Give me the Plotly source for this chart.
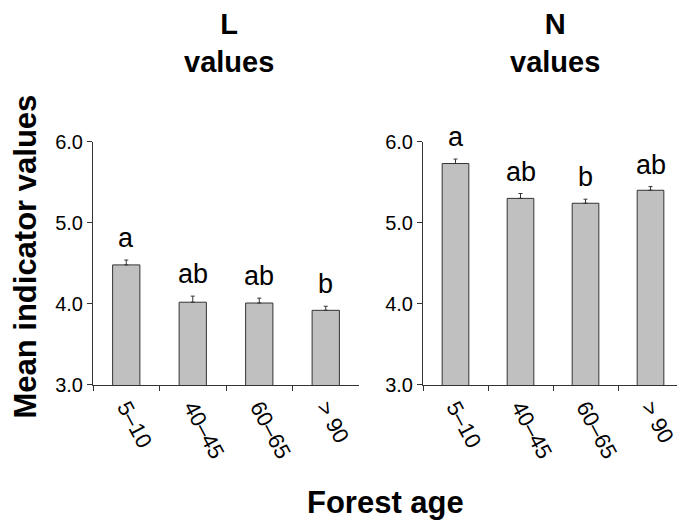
import plotly.graph_objects as go

categories = ["5–10", "40–45", "60–65", "> 90"]
l_means = [4.48, 4.02, 4.01, 3.92]
l_errors = [0.06, 0.075, 0.06, 0.05]
l_letters = ["a", "ab", "ab", "b"]
n_means = [5.73, 5.30, 5.24, 5.40]
n_errors = [0.055, 0.06, 0.05, 0.045]
n_letters = ["a", "ab", "b", "ab"]
y_ticks = [3.0, 4.0, 5.0, 6.0]

FONT = "Liberation Sans, Arial, sans-serif"
DARK = "#333333"
# the page body has an 8px margin, so the figure is drawn 8px in from the window edge
OFF = 8
W, H = 685 - OFF, 531 - OFF


def px(x):
    return (x - OFF) / W


def py(y):
    return 1 - (y - OFF) / H


fig = go.Figure()
for i, (means, errs) in enumerate([(l_means, l_errors), (n_means, n_errors)]):
    ax = "" if i == 0 else "2"
    fig.add_trace(go.Bar(
        x=categories, y=means, base=0,
        xaxis="x" + ax, yaxis="y" + ax,
        marker=dict(color="#c0c0c0", line=dict(color=DARK, width=1)),
        error_y=dict(type="data", array=errs, arrayminus=[0] * len(errs),
                     symmetric=False, color=DARK, thickness=1, width=2),
        showlegend=False,
    ))

annotations = []
for ax, means, errs, letters in [("", l_means, l_errors, l_letters),
                                 ("2", n_means, n_errors, n_letters)]:
    for c, m, e, t in zip(categories, means, errs, letters):
        annotations.append(dict(
            x=c, y=m + e, xref="x" + ax, yref="y" + ax, text=t,
            showarrow=False, xanchor="center", yanchor="bottom", yshift=5,
            font=dict(family=FONT, size=27, color="black")))

# panel titles
for xc, letter in [(229, "L"), (555, "N")]:
    annotations.append(dict(x=px(xc), y=py(33), xref="paper", yref="paper",
                            text="<b>%s<br>values</b>" % letter, showarrow=False,
                            xanchor="center", yanchor="middle",
                            font=dict(family=FONT, size=29, color="black")))

annotations.append(dict(x=px(26), y=py(256), xref="paper", yref="paper",
                        text="<b>Mean indicator values</b>", textangle=-90,
                        showarrow=False, xanchor="center", yanchor="middle",
                        font=dict(family=FONT, size=31, color="black")))
annotations.append(dict(x=px(385), y=py(513), xref="paper", yref="paper",
                        text="<b>Forest age</b>", showarrow=False,
                        xanchor="center", yanchor="middle",
                        font=dict(family=FONT, size=31, color="black")))

xaxis_common = dict(type="category", showline=True, linecolor=DARK, linewidth=1,
                    ticks="outside", tickson="boundaries", ticklen=5,
                    tickcolor=DARK, tickangle=62, showgrid=False,
                    tickfont=dict(family=FONT, size=22, color="black"))
yaxis_common = dict(range=[3.0, 6.0], tickvals=y_ticks,
                    ticktext=["%.1f" % v for v in y_ticks],
                    showline=True, linecolor=DARK, linewidth=1,
                    ticks="outside", ticklen=5, tickcolor=DARK,
                    showgrid=False, zeroline=False,
                    tickfont=dict(family=FONT, size=20, color="black"))

ydom = [py(390), py(136)]
fig.update_layout(
    width=W, height=H,
    margin=dict(l=0, r=0, t=0, b=0),
    paper_bgcolor="white", plot_bgcolor="white",
    bargap=0.59,
    xaxis=dict(domain=[px(93), px(359)], anchor="y", **xaxis_common),
    yaxis=dict(domain=ydom, anchor="x", **yaxis_common),
    xaxis2=dict(domain=[px(423), px(683)], anchor="y2", **xaxis_common),
    yaxis2=dict(domain=ydom, anchor="x2", **yaxis_common),
    annotations=annotations,
)

fig.write_html("out.html")
